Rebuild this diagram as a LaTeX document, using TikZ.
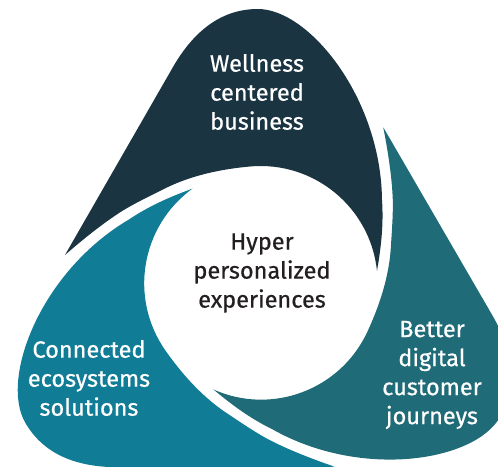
\documentclass[tikz,border=0pt]{standalone}
\usepackage{fontspec}
\setmainfont{Fira Sans}[FakeBold=0.6]
\definecolor{wellnessnavy}{RGB}{26,52,66}
\definecolor{journeyteal}{RGB}{31,107,119}
\definecolor{ecosystemblue}{RGB}{17,124,149}
\definecolor{hubtext}{RGB}{35,31,32}

% one swirl petal, outer tip on the left, inner tip on the hub circle
\newcommand{\petalshape}{(-196,28) .. controls (-160,90.7) and (-124,153.3) .. (-88,216)
  .. controls (-66,254) and (-38,274) .. (-3,274)
  .. controls (48,274) and (120,185) .. (121,83)
  .. controls (123,55) and (119,30) .. (116,12)
  arc[start angle=5.9, end angle=95, radius=117]
  .. controls (-45,113.5) and (-72,106) .. (-93,96)
  .. controls (-108,88.5) and (-124,81) .. (-138,72.5)
  .. controls (-158,60) and (-180,42) .. (-196,28) -- cycle}

\begin{document}
\begin{tikzpicture}[
    x=1pt, y=1pt,
    every node/.style={align=center},
    petal label/.style={text=white, font=\fontsize{23.5}{29}\selectfont},
    hub label/.style={text=hubtext, font=\fontsize{23.5}{29}\selectfont}
]
\useasboundingbox (-261,-183) rectangle (237,283);
\clip (-261,-183) rectangle (237,283);

% Petals
\fill[wellnessnavy] \petalshape;
\fill[journeyteal, rotate=-120] \petalshape;
\fill[ecosystemblue, rotate=120] \petalshape;

% Labels
\node[hub label] (hub) at (1,10) {Hyper\\personalized\\experiences};
\node[petal label] (wellness) at (-4,191) {Wellness\\centered\\business};
\node[petal label] (journeys) at (171,-92) {Better\\digital\\customer\\journeys};
\node[petal label] (ecosystems) at (-172,-95) {Connected\\ecosystems\\solutions};

\end{tikzpicture}
\end{document}
